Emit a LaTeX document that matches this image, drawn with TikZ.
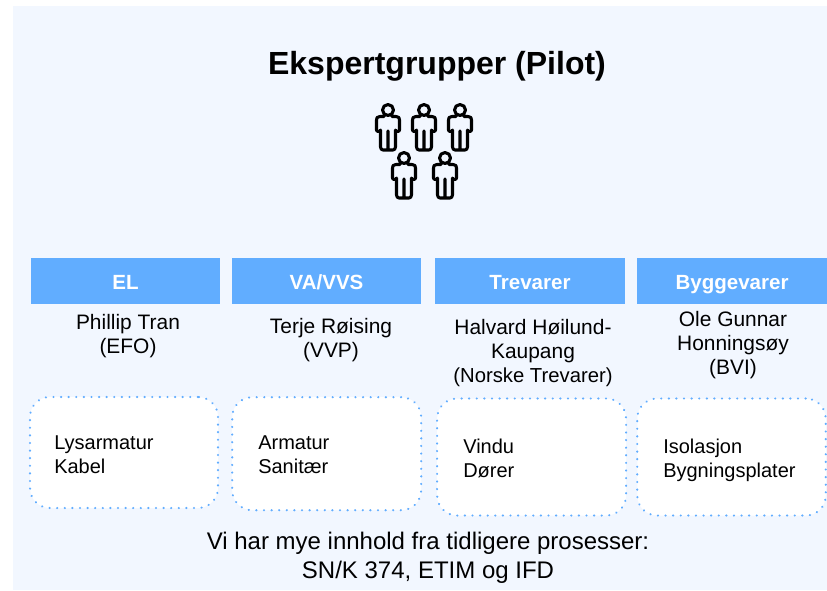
\documentclass[tikz,border=0pt]{standalone}
\usepackage{fontspec}
\setmainfont{Liberation Sans}
\definecolor{panel}{HTML}{F2F7FF}
\definecolor{head}{HTML}{61ADFF}
\tikzset{
 x=0.75pt,y=-0.75pt,
 headbox/.style={fill=head,minimum width=189*0.75pt,minimum height=46*0.75pt,inner sep=0pt,text=white,text height=13.5pt,text depth=1pt,font=\fontsize{15.4}{18}\selectfont\bfseries},
 who/.style={align=center,anchor=north,inner sep=0pt,font=\fontsize{15.7}{18}\selectfont},
 dotbox/.style={draw=head,fill=white,line width=1.6pt,dash pattern=on 0.2pt off 5.5pt,line cap=round,rounded corners=15pt,minimum width=188*0.75pt,minimum height=111*0.75pt,inner sep=0pt},
 item/.style={align=left,anchor=west,inner sep=0pt,font=\fontsize{15}{18}\selectfont},
 person/.pic={
  \draw[line width=2.3pt,black,line join=round,line cap=round]
   (0,7) circle[radius=5.5]
   (-4,13.5) -- (-8,13.5) .. controls (-11,13.5) and (-11.5,15) .. (-11.5,17) -- (-11.5,27) .. controls (-11.5,29) and (-7.5,29) .. (-7.5,27)
   -- (-7.5,44) .. controls (-7.5,46) and (-6,47) .. (-5,47) -- (5,47) .. controls (6,47) and (7.5,46) .. (7.5,44)
   -- (7.5,27) .. controls (7.5,29) and (11.5,29) .. (11.5,27) -- (11.5,17) .. controls (11.5,15) and (11,13.5) .. (8,13.5) -- (4,13.5)
   (0,28) -- (0,46);
 }
}
\begin{document}
\begin{tikzpicture}
\useasboundingbox (0,0) rectangle (827,590);
\fill[panel] (13,6) rectangle (827,590);
\node[inner sep=0pt,font=\fontsize{24}{29}\selectfont\bfseries] (title) at (437,66) {Ekspertgrupper (Pilot)};
\pic at (388,103) {person};
\pic at (424,103) {person};
\pic at (460,103) {person};
\pic at (404,151) {person};
\pic at (445,151) {person};
\node[headbox] (h1) at (125.5,281) {EL};
\node[headbox] (h2) at (326.5,281) {VA/VVS};
\node[headbox,minimum width=190*0.75pt] (h3) at (530,281) {Trevarer};
\node[headbox,minimum width=190*0.75pt] (h4) at (732,281) {Byggevarer};
\node[who] (w1) at (128,314) {Phillip Tran\\(EFO)};
\node[who] (w2) at (331,318) {Terje Røising\\(VVP)};
\node[who] (w3) at (533,319) {Halvard Høilund-\\Kaupang\\{\fontsize{15.2}{18}\selectfont (Norske Trevarer)}};
\node[who] (w4) at (733,311.5) {Ole Gunnar\\Honningsøy\\(BVI)};
\node[dotbox] (b1) at (124,452.5) {};
\node[dotbox,minimum width=189*0.75pt,minimum height=113*0.75pt] (b2) at (326.7,453.7) {};
\node[dotbox,minimum width=189*0.75pt,minimum height=117*0.75pt] (b3) at (531.6,457) {};
\node[dotbox,minimum width=188.5*0.75pt,minimum height=117*0.75pt] (b4) at (731.5,457) {};
\node[item] (t1) at (54,455) {Lysarmatur\\Kabel};
\node[item] (t2) at (258,455) {Armatur\\Sanitær};
\node[item] (t3) at (463,458.5) {Vindu\\Dører};
\node[item] (t4) at (663,460) {Isolasjon\\Bygningsplater};
\node[align=center,inner sep=0pt,font=\fontsize{18}{21.5}\selectfont] (foot) at (428,557.5) {Vi har mye innhold fra tidligere prosesser:\\SN/K 374, ETIM og IFD};
\end{tikzpicture}
\end{document}
